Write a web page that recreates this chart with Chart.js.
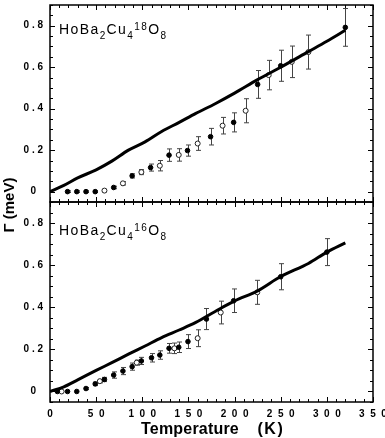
<!DOCTYPE html>
<html>
<head>
<meta charset="utf-8">
<script src="https://cdn.jsdelivr.net/npm/chart.js@4.4.1/dist/chart.umd.min.js"></script>
<style>
  body { margin: 0; background: #fff; }
  #wrap { position: relative; width: 385px; height: 438px; overflow: hidden; font-family: Arial, "Liberation Sans", sans-serif; color: #000; }
  canvas { position: absolute; left: 0; top: 0; }
  .comp { position: absolute; left: 59px; font-size: 14px; line-height: 14px; letter-spacing: 1.4px; white-space: nowrap; }
  .comp .sb { font-size: 10px; position: relative; top: 5px; }
  .comp .sp { font-size: 10px; position: relative; top: -4px; }
  #ylab { position: absolute; left: 8px; top: 205px; transform: translate(-50%, -50%) rotate(-90deg); font-weight: bold; font-size: 15px; white-space: nowrap; }
  #xlab { position: absolute; left: 141px; top: 421px; font-weight: bold; font-size: 16px; line-height: 16px; white-space: nowrap; letter-spacing: 0.2px; }
  #xlab span { letter-spacing: 1.5px; }
</style>
</head>
<body>
<div id="wrap">
  <canvas id="topChart" width="385" height="438"></canvas>
  <canvas id="bottomChart" width="385" height="438"></canvas>
  <div class="comp" style="top:22px">HoBa<span class="sb">2</span>Cu<span class="sb">4</span><span class="sp">18</span>O<span class="sb">8</span></div>
  <div class="comp" style="top:223px">HoBa<span class="sb">2</span>Cu<span class="sb">4</span><span class="sp">16</span>O<span class="sb">8</span></div>
  <div id="ylab">Γ (meV)</div>
  <div id="xlab">Temperature&nbsp;&nbsp;&nbsp;&nbsp;<span>(K)</span></div>
</div>
<script>
// calculated curves (same temperature grid for both panels)
const curveT = [0, 15, 30, 50, 67, 85, 103, 121, 140, 158, 179, 200, 225, 250, 280, 300, 320];
const curve18 = [0, 0.03, 0.066, 0.105, 0.147, 0.2, 0.24, 0.29, 0.334, 0.377, 0.424, 0.475, 0.54, 0.6, 0.675, 0.725, 0.778];
const curve16 = [0, 0.022, 0.055, 0.1, 0.137, 0.177, 0.216, 0.256, 0.292, 0.328, 0.38, 0.43, 0.478, 0.546, 0.608, 0.662, 0.706];

// 18O sample, filled symbols
const t18Filled = [19, 29, 39, 49, 69, 89, 109, 129, 149, 174, 199, 225, 250, 320];
const g18Filled = [0, 0, 0, 0, 0.02, 0.076, 0.116, 0.176, 0.198, 0.265, 0.334, 0.517, 0.607, 0.792];
const e18Filled = [0.004, 0.004, 0.004, 0.004, 0.006, 0.01, 0.017, 0.03, 0.027, 0.04, 0.046, 0.067, 0.075, 0.091];
// 18O sample, open symbols
const t18Open = [59, 79, 99, 119, 139.5, 160, 187, 212, 237, 262, 280];
const g18Open = [0.005, 0.04, 0.094, 0.125, 0.177, 0.232, 0.318, 0.39, 0.562, 0.626, 0.673];
const e18Open = [0.006, 0.008, 0.012, 0.025, 0.03, 0.033, 0.04, 0.058, 0.071, 0.076, 0.082];

// 16O sample, filled symbols
const t16Filled = [8, 19, 29, 39, 49, 59, 69, 79, 89, 99, 110, 119, 129, 139.5, 149.5, 169.5, 199, 250, 300];
const g16Filled = [0, 0, 0, 0.014, 0.036, 0.057, 0.078, 0.097, 0.118, 0.145, 0.16, 0.173, 0.205, 0.21, 0.237, 0.344, 0.431, 0.545, 0.662];
const e16Filled = [0, 0, 0, 0.005, 0.008, 0.01, 0.015, 0.017, 0.017, 0.017, 0.02, 0.02, 0.023, 0.025, 0.033, 0.05, 0.056, 0.062, 0.064];
// 16O sample, open symbols
const t16Open = [12.6, 54, 94, 134.8, 160, 185, 224.6];
const g16Open = [0, 0.049, 0.137, 0.205, 0.253, 0.375, 0.471];
const e16Open = [0, 0.008, 0.012, 0.025, 0.04, 0.054, 0.057];

const xMin = 0, xMax = 350, xStep = 10;
const yMin = -0.05, yMax = 0.9, yStep = 0.05;

const FONT = 'Arial, "Liberation Sans", sans-serif';

function pts(ts, vs) {
    return ts.map((t, i) => ({ x: t, y: vs[i] }));
}

// error bars drawn under the symbols
const errorBars = {
    id: 'errorBars',
    beforeDatasetsDraw(chart) {
        const { ctx, scales: { x, y } } = chart;
        ctx.save();
        ctx.strokeStyle = '#444';
        ctx.lineWidth = 1;
        ctx.beginPath();
        chart.data.datasets.forEach(ds => {
            if (!ds.errors) return;
            ds.data.forEach((p, j) => {
                const e = ds.errors[j];
                if (!e) return;
                const px = Math.round(x.getPixelForValue(p.x)) + 0.5;
                const yt = y.getPixelForValue(p.y + e);
                const yb = y.getPixelForValue(p.y - e);
                ctx.moveTo(px, yt); ctx.lineTo(px, yb);
                ctx.moveTo(px - 2.5, yt); ctx.lineTo(px + 2.5, yt);
                ctx.moveTo(px - 2.5, yb); ctx.lineTo(px + 2.5, yb);
            });
        });
        ctx.stroke();
        ctx.restore();
    }
};

// frame with inward ticks on all four sides
const frameTicks = {
    id: 'frameTicks',
    afterDraw(chart) {
        const { ctx, chartArea: a, scales: { x, y } } = chart;
        ctx.save();
        ctx.strokeStyle = '#000';
        ctx.lineWidth = 1;
        ctx.beginPath();
        x.ticks.forEach(t => {
            const px = Math.round(x.getPixelForValue(t.value)) + 0.5;
            const len = Math.round(t.value) % 50 === 0 ? 5 : 3;
            ctx.moveTo(px, a.bottom); ctx.lineTo(px, a.bottom - len);
            ctx.moveTo(px, a.top); ctx.lineTo(px, a.top + len);
        });
        y.ticks.forEach(t => {
            const py = Math.round(y.getPixelForValue(t.value)) + 0.5;
            const k = t.value / 0.2;
            const len = Math.abs(k - Math.round(k)) < 1e-6 ? 5 : 3;
            ctx.moveTo(a.left, py); ctx.lineTo(a.left + len, py);
            ctx.moveTo(a.right, py); ctx.lineTo(a.right - len, py);
        });
        ctx.stroke();
        ctx.lineWidth = 1.5;
        ctx.strokeRect(a.left, a.top, a.right - a.left, a.bottom - a.top);
        ctx.restore();
    }
};

function yLabel(v) {
    if (Math.abs(v) < 1e-9) return '0';
    const k = v / 0.2;
    if (v < 0 || v > 0.81 || Math.abs(k - Math.round(k)) > 1e-6) return '';
    return v.toFixed(1).split('').join(' ');
}

function xLabel(v) {
    return Math.round(v) % 50 === 0 ? String(v).split('').join('  ') : '';
}

function makeChart(id, curve, tf, gf, ef, to, go, eo, padding, showX) {
    return new Chart(document.getElementById(id), {
        type: 'scatter',
        data: {
            datasets: [
                {
                    data: pts(curveT, curve),
                    showLine: true,
                    borderColor: '#000',
                    borderWidth: 3,
                    pointRadius: 0,
                    tension: 0.3,
                    cubicInterpolationMode: 'monotone'
                },
                {
                    data: pts(tf, gf),
                    errors: ef,
                    pointRadius: 2.3,
                    backgroundColor: '#000',
                    borderColor: '#000',
                    borderWidth: 1
                },
                {
                    data: pts(to, go),
                    errors: eo,
                    pointRadius: 2.5,
                    backgroundColor: '#fff',
                    borderColor: '#222',
                    borderWidth: 1
                }
            ]
        },
        options: {
            responsive: false,
            animation: false,
            layout: { padding },
            plugins: { legend: { display: false }, tooltip: { enabled: false } },
            scales: {
                x: {
                    type: 'linear',
                    min: xMin, max: xMax,
                    grid: { display: false, drawTicks: false },
                    border: { display: false },
                    ticks: {
                        display: showX,
                        stepSize: xStep,
                        autoSkip: false,
                        maxRotation: 0,
                        padding: 6,
                        color: '#000',
                        font: { family: FONT, size: 10, weight: 'bold' },
                        callback: xLabel
                    },
                    afterFit: s => { s.height = showX ? 36 : 0; s.paddingLeft = 0; s.paddingRight = 0; }
                },
                y: {
                    type: 'linear',
                    min: yMin, max: yMax,
                    grid: { display: false, drawTicks: false },
                    border: { display: false },
                    ticks: {
                        stepSize: yStep,
                        autoSkip: false,
                        crossAlign: 'center',
                        padding: 7,
                        color: '#000',
                        font: { family: FONT, size: 10, weight: 'bold' },
                        callback: yLabel
                    },
                    afterFit: s => { s.width = 34; s.paddingTop = 0; s.paddingBottom = 0; }
                }
            }
        },
        plugins: [errorBars, frameTicks]
    });
}

makeChart('topChart', curve18, t18Filled, g18Filled, e18Filled, t18Open, g18Open, e18Open,
    { left: 16, top: 1, right: 12, bottom: 236 }, false);
makeChart('bottomChart', curve16, t16Filled, g16Filled, e16Filled, t16Open, g16Open, e16Open,
    { left: 16, top: 202, right: 12, bottom: 0 }, true);
</script>
</body>
</html>
